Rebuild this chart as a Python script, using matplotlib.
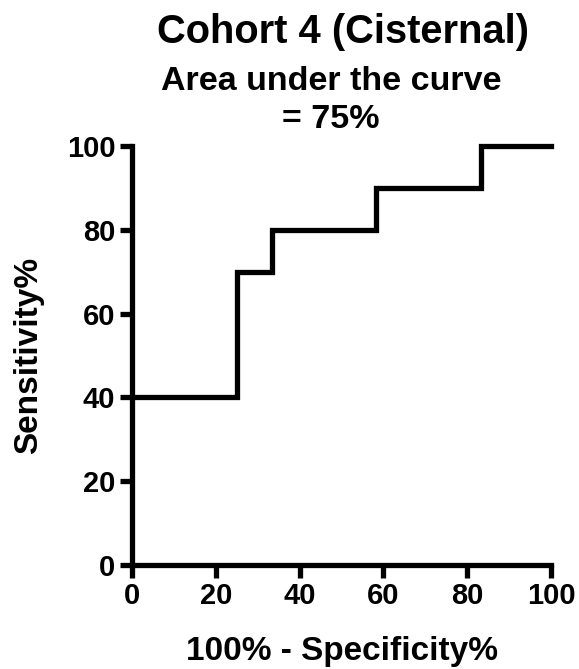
import matplotlib
matplotlib.use("Agg")
import matplotlib.pyplot as plt

# ROC step curve data
fpr = [0, 25, 25, 33.33, 33.33, 58.33, 58.33, 83.33, 83.33, 100]
sens = [40, 40, 70, 70, 80, 80, 90, 90, 100, 100]
xticks = [0, 20, 40, 60, 80, 100]
yticks = [0, 20, 40, 60, 80, 100]

plt.rcParams['font.family'] = ['Liberation Sans', 'DejaVu Sans']
plt.rcParams['font.weight'] = 'bold'

W, H = 579, 669
fig = plt.figure(figsize=(W / 100, H / 100), dpi=100)
ax = fig.add_axes([132 / W, 1 - 565 / H, (551 - 132) / W, (565 - 146) / H])

ax.plot(fpr, sens, color='black', lw=3.8, solid_joinstyle='miter', clip_on=False)
ax.set_xlim(0, 100)
ax.set_ylim(0, 100)
ax.set_xticks(xticks)
ax.set_yticks(yticks)
ax.set_xticklabels([str(t) for t in xticks], fontsize=21, fontweight='bold')
ax.set_yticklabels([str(t) for t in yticks], fontsize=21, fontweight='bold')
for s in ['top', 'right']:
    ax.spines[s].set_visible(False)
for s in ['left', 'bottom']:
    ax.spines[s].set_linewidth(3.8)
ax.tick_params(direction='out', length=9, width=3.8, pad=3)

ax.set_xlabel('100% - Specificity%', fontsize=24, fontweight='bold', labelpad=19)
ax.set_ylabel('Sensitivity%', fontsize=24, fontweight='bold', labelpad=16)

fig.text(343 / W, 1 - 43 / H, 'Cohort 4 (Cisternal)', ha='center', va='baseline',
         fontsize=28.7, fontweight='bold')
fig.text(331 / W, 1 - 90 / H, 'Area under the curve', ha='center', va='baseline',
         fontsize=24.5, fontweight='bold')
fig.text(331 / W, 1 - 128 / H, '= 75%', ha='center', va='baseline',
         fontsize=24.5, fontweight='bold')

fig.savefig('out.png', dpi=100)
